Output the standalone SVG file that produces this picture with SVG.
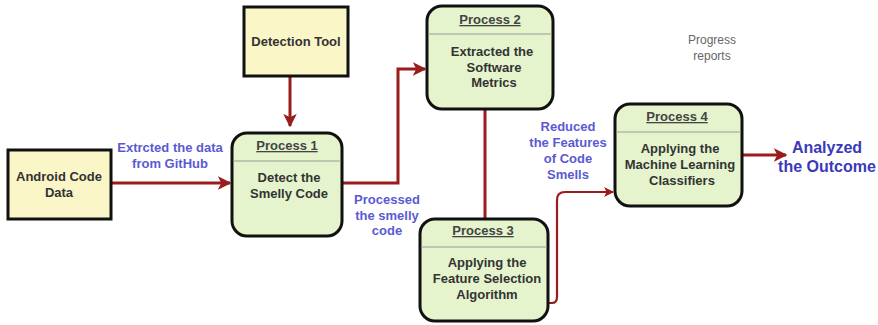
<svg xmlns="http://www.w3.org/2000/svg" width="878" height="325" viewBox="0 0 878 325">
<style>
  .ent { fill: #fbf6c8; stroke: #111; stroke-width: 3; }
  .proc { fill: #e5f4cd; stroke: #111; stroke-width: 3; }
  .div { stroke: #9a9a9a; stroke-width: 1.2; }
  .t { font-family: "Liberation Sans", Arial, sans-serif; font-size: 13px; font-weight: bold; fill: #333; text-anchor: middle; }
  .h { font-family: "Liberation Sans", Arial, sans-serif; font-size: 13px; font-weight: bold; fill: #444; text-anchor: middle; text-decoration: underline; }
  .lbl { font-family: "Liberation Sans", Arial, sans-serif; font-size: 13px; font-weight: bold; fill: #5a5ad2; text-anchor: middle; }
  .big { font-family: "Liberation Sans", Arial, sans-serif; font-size: 16px; font-weight: bold; fill: #3a3ab8; text-anchor: middle; }
  .gray { font-family: "Liberation Sans", Arial, sans-serif; font-size: 12px; fill: #666; text-anchor: middle; }
  .c { fill: none; stroke: #9b1c1c; stroke-width: 3; }
</style>
<defs>
  <marker id="ah" viewBox="0 0 10 10" refX="9" refY="5" markerWidth="4.5" markerHeight="4.5" orient="auto" markerUnits="strokeWidth">
    <path d="M0,0 L10,5 L0,10 L2.5,5 Z" fill="#9b1c1c"/>
  </marker>
</defs>

<g id="connectors">
  <path class="c" d="M111,183 L230,183" marker-end="url(#ah)"/>
  <path class="c" d="M290,77 L290,126" marker-end="url(#ah)"/>
  <path class="c" d="M342,183 L398,183 L398,69 L425,69" marker-end="url(#ah)"/>
  <path class="c" d="M485,110 L485,218"/>
  <path class="c" style="stroke-width:2.2" d="M548,303 L552,303 Q557,303 557,297 L557,200 Q557,192 565,192 L613,192" marker-end="url(#ah)"/>
  <path class="c" d="M742,155 L786,155" marker-end="url(#ah)"/>
</g>

<g id="android">
  <rect class="ent" x="8" y="150" width="103" height="69"/>
  <text class="t" x="59" y="181">Android Code</text>
  <text class="t" x="59" y="197">Data</text>
</g>

<g id="detection">
  <rect class="ent" x="244" y="7" width="104" height="69"/>
  <text class="t" x="296" y="46">Detection Tool</text>
</g>

<g id="process1">
  <rect class="proc" x="232" y="133" width="110" height="103" rx="15"/>
  <line class="div" x1="233" y1="161" x2="341" y2="161"/>
  <text class="h" x="287" y="150">Process 1</text>
  <text class="t" x="289" y="182">Detect the</text>
  <text class="t" x="289" y="198">Smelly Code</text>
</g>

<g id="process2">
  <rect class="proc" x="427" y="6" width="126" height="103" rx="15"/>
  <line class="div" x1="428" y1="34" x2="552" y2="34"/>
  <text class="h" x="490" y="24">Process 2</text>
  <text class="t" x="492" y="56">Extracted the</text>
  <text class="t" x="494" y="72">Software</text>
  <text class="t" x="494" y="87">Metrics</text>
</g>

<g id="process3">
  <rect class="proc" x="420" y="219" width="128" height="102" rx="15"/>
  <line class="div" x1="421" y1="247" x2="547" y2="247"/>
  <text class="h" x="483" y="235">Process 3</text>
  <text class="t" x="487" y="267">Applying the</text>
  <text class="t" x="487" y="283">Feature Selection</text>
  <text class="t" x="487" y="299">Algorithm</text>
</g>

<g id="process4">
  <rect class="proc" x="615" y="104" width="127" height="102" rx="15"/>
  <line class="div" x1="616" y1="132" x2="741" y2="132"/>
  <text class="h" x="677" y="121">Process 4</text>
  <text class="t" x="680" y="153">Applying the</text>
  <text class="t" x="680" y="169">Machine Learning</text>
  <text class="t" x="682" y="185">Classifiers</text>
</g>

<g id="labels">
  <text class="lbl" x="170" y="152">Extrcted the data</text>
  <text class="lbl" x="170" y="168">from GitHub</text>
  <text class="lbl" x="387" y="204">Processed</text>
  <text class="lbl" x="387" y="220">the smelly</text>
  <text class="lbl" x="387" y="235">code</text>
  <text class="lbl" x="568" y="131">Reduced</text>
  <text class="lbl" x="568" y="147">the Features</text>
  <text class="lbl" x="568" y="163">of Code</text>
  <text class="lbl" x="568" y="179">Smells</text>
  <text class="gray" x="712" y="44">Progress</text>
  <text class="gray" x="712" y="60">reports</text>
  <text class="big" x="827" y="153">Analyzed</text>
  <text class="big" x="827" y="172">the Outcome</text>
</g>
</svg>
